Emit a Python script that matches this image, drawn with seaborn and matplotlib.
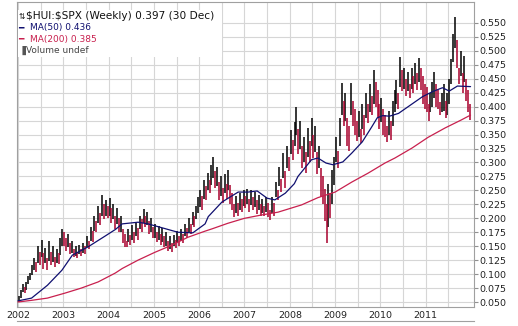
import numpy as np
import pandas as pd
import matplotlib
matplotlib.use("Agg")
import matplotlib.pyplot as plt
from matplotlib.patches import Rectangle
import seaborn as sns

# ---------------- data (semi-monthly high / low of the weekly bars) ----------------
years = [2002, 2003, 2004, 2005, 2006, 2007, 2008, 2009, 2010, 2011]

high_2002 = [0.060, 0.072, 0.082, 0.076, 0.086, 0.096, 0.102, 0.116, 0.128, 0.122, 0.150, 0.140,
             0.162, 0.138, 0.146, 0.128, 0.160, 0.140, 0.150, 0.130, 0.145, 0.138, 0.165, 0.180]
low_2002 = [0.050, 0.058, 0.068, 0.066, 0.072, 0.082, 0.090, 0.098, 0.108, 0.104, 0.120, 0.116,
            0.130, 0.110, 0.120, 0.108, 0.124, 0.116, 0.122, 0.112, 0.120, 0.118, 0.135, 0.150]
high_2003 = [0.175, 0.165, 0.172, 0.155, 0.160, 0.145, 0.150, 0.140, 0.152, 0.145, 0.155, 0.150,
             0.168, 0.160, 0.185, 0.178, 0.205, 0.195, 0.222, 0.210, 0.242, 0.225, 0.232, 0.222]
low_2003 = [0.150, 0.142, 0.148, 0.136, 0.138, 0.130, 0.132, 0.128, 0.136, 0.132, 0.138, 0.136,
            0.148, 0.145, 0.160, 0.158, 0.178, 0.175, 0.192, 0.188, 0.205, 0.198, 0.205, 0.200]
high_2004 = [0.236, 0.218, 0.225, 0.205, 0.218, 0.200, 0.205, 0.180, 0.172, 0.160, 0.180, 0.170,
             0.188, 0.175, 0.192, 0.182, 0.205, 0.198, 0.216, 0.205, 0.212, 0.195, 0.200, 0.185]
low_2004 = [0.205, 0.192, 0.198, 0.180, 0.190, 0.175, 0.175, 0.155, 0.149, 0.148, 0.158, 0.152,
            0.162, 0.156, 0.168, 0.162, 0.180, 0.176, 0.192, 0.185, 0.188, 0.172, 0.176, 0.165]
high_2005 = [0.190, 0.176, 0.186, 0.172, 0.182, 0.168, 0.175, 0.160, 0.168, 0.155, 0.170, 0.162,
             0.178, 0.168, 0.180, 0.172, 0.190, 0.182, 0.200, 0.190, 0.212, 0.205, 0.222, 0.238]
low_2005 = [0.165, 0.158, 0.162, 0.152, 0.158, 0.148, 0.150, 0.142, 0.145, 0.140, 0.150, 0.146,
            0.156, 0.150, 0.160, 0.155, 0.168, 0.164, 0.176, 0.172, 0.188, 0.184, 0.198, 0.210]
high_2006 = [0.250, 0.240, 0.268, 0.258, 0.282, 0.268, 0.295, 0.310, 0.285, 0.292, 0.265, 0.275,
             0.255, 0.280, 0.262, 0.286, 0.260, 0.245, 0.225, 0.240, 0.228, 0.245, 0.235, 0.250]
low_2006 = [0.220, 0.215, 0.235, 0.232, 0.250, 0.245, 0.260, 0.272, 0.255, 0.258, 0.232, 0.240,
            0.228, 0.245, 0.235, 0.250, 0.225, 0.215, 0.202, 0.210, 0.205, 0.215, 0.212, 0.222]
high_2007 = [0.240, 0.252, 0.235, 0.250, 0.238, 0.248, 0.232, 0.242, 0.225, 0.235, 0.222, 0.238,
             0.228, 0.215, 0.238, 0.228, 0.265, 0.250, 0.292, 0.270, 0.317, 0.285, 0.330, 0.310]
low_2007 = [0.218, 0.225, 0.212, 0.224, 0.214, 0.220, 0.208, 0.215, 0.205, 0.210, 0.204, 0.212,
            0.202, 0.197, 0.210, 0.205, 0.238, 0.232, 0.258, 0.248, 0.272, 0.255, 0.290, 0.285]
high_2008 = [0.358, 0.340, 0.372, 0.400, 0.360, 0.375, 0.330, 0.345, 0.318, 0.362, 0.338, 0.380,
             0.350, 0.365, 0.318, 0.330, 0.290, 0.275, 0.252, 0.225, 0.262, 0.245, 0.286, 0.310]
low_2008 = [0.315, 0.305, 0.330, 0.350, 0.315, 0.325, 0.290, 0.300, 0.282, 0.310, 0.300, 0.330,
            0.308, 0.318, 0.280, 0.290, 0.238, 0.225, 0.195, 0.156, 0.185, 0.200, 0.225, 0.260]
high_2009 = [0.345, 0.320, 0.380, 0.442, 0.410, 0.425, 0.380, 0.365, 0.442, 0.410, 0.395, 0.375,
             0.392, 0.360, 0.405, 0.385, 0.425, 0.405, 0.440, 0.420, 0.466, 0.445, 0.430, 0.405]
low_2009 = [0.300, 0.290, 0.330, 0.385, 0.365, 0.375, 0.330, 0.320, 0.385, 0.365, 0.350, 0.338,
            0.345, 0.335, 0.360, 0.350, 0.380, 0.370, 0.390, 0.385, 0.405, 0.400, 0.380, 0.360]
high_2010 = [0.415, 0.395, 0.385, 0.365, 0.392, 0.375, 0.410, 0.430, 0.448, 0.425, 0.489, 0.465,
             0.470, 0.450, 0.462, 0.440, 0.470, 0.455, 0.478, 0.460, 0.488, 0.470, 0.455, 0.440]
low_2010 = [0.372, 0.350, 0.345, 0.337, 0.350, 0.340, 0.365, 0.390, 0.405, 0.395, 0.435, 0.428,
            0.432, 0.420, 0.428, 0.415, 0.432, 0.425, 0.440, 0.430, 0.445, 0.430, 0.405, 0.395]
high_2011 = [0.435, 0.405, 0.425, 0.445, 0.462, 0.440, 0.430, 0.408, 0.425, 0.440, 0.410, 0.425,
             0.450, 0.485, 0.530, 0.561, 0.520, 0.470, 0.500, 0.460, 0.490, 0.450, 0.430, 0.405]
low_2011 = [0.390, 0.375, 0.390, 0.400, 0.415, 0.400, 0.395, 0.385, 0.390, 0.392, 0.380, 0.385,
            0.405, 0.440, 0.480, 0.505, 0.470, 0.440, 0.455, 0.425, 0.445, 0.410, 0.390, 0.376]

# moving averages
ma50_t = [2002.0, 2002.3, 2002.65, 2002.97, 2003.2, 2003.55, 2003.92, 2004.15, 2004.3, 2004.65,
          2004.87, 2005.18, 2005.53, 2005.86, 2006.13, 2006.2, 2006.5, 2006.86, 2007.08, 2007.28,
          2007.5, 2007.67, 2007.9, 2008.1, 2008.18, 2008.48, 2008.62, 2008.8, 2008.95, 2009.17,
          2009.37, 2009.6, 2009.81, 2009.93, 2010.05, 2010.2, 2010.4, 2010.7, 2010.93, 2011.15,
          2011.37, 2011.52, 2011.7, 2011.99]
ma50_v = [0.052, 0.057, 0.080, 0.107, 0.134, 0.149, 0.168, 0.180, 0.190, 0.193,
          0.190, 0.183, 0.175, 0.174, 0.190, 0.203, 0.229, 0.247, 0.247, 0.249,
          0.236, 0.233, 0.245, 0.262, 0.275, 0.305, 0.308, 0.299, 0.296, 0.301,
          0.317, 0.337, 0.364, 0.380, 0.384, 0.383, 0.388, 0.405, 0.418, 0.427,
          0.434, 0.428, 0.437, 0.436]
ma200_t = [2002.0, 2002.3, 2002.65, 2003.04, 2003.4, 2003.77, 2004.15, 2004.3, 2004.65, 2005.02,
           2005.4, 2005.75, 2006.13, 2006.28, 2006.63, 2007.0, 2007.38, 2007.74, 2008.1, 2008.26,
           2008.62, 2009.0, 2009.37, 2009.73, 2010.1, 2010.32, 2010.7, 2011.05, 2011.43, 2011.78,
           2011.99]
ma200_v = [0.050, 0.053, 0.057, 0.066, 0.075, 0.086, 0.102, 0.110, 0.125, 0.139,
           0.152, 0.166, 0.177, 0.181, 0.191, 0.200, 0.206, 0.211, 0.220, 0.224,
           0.237, 0.247, 0.265, 0.281, 0.299, 0.308, 0.326, 0.345, 0.362, 0.376,
           0.385]

y_ticks = [0.050, 0.075, 0.100, 0.125, 0.150, 0.175, 0.200, 0.225, 0.250, 0.275, 0.300,
           0.325, 0.350, 0.375, 0.400, 0.425, 0.450, 0.475, 0.500, 0.525, 0.550]

title_txt = "$HUI:$SPX (Weekly) 0.397 (30 Dec)"
ma50_txt = "MA(50) 0.436"
ma200_txt = "MA(200) 0.385"
vol_txt = "Volume undef"

# ---------------- build tables ----------------
highs = sum([high_2002, high_2003, high_2004, high_2005, high_2006, high_2007,
             high_2008, high_2009, high_2010, high_2011], [])
lows = sum([low_2002, low_2003, low_2004, low_2005, low_2006, low_2007,
            low_2008, low_2009, low_2010, low_2011], [])
n = len(highs)
bars = pd.DataFrame({"t": 2002 + (np.arange(n) + 0.5) / 24.0, "high": highs, "low": lows})
mid = (bars["high"] + bars["low"]) / 2
bars["up"] = mid.diff().fillna(1) >= 0

ma = pd.concat([
    pd.DataFrame({"t": ma50_t, "v": ma50_v, "s": "MA50"}),
    pd.DataFrame({"t": ma200_t, "v": ma200_v, "s": "MA200"}),
])

# ---------------- figure ----------------
sns.set_style("white")
plt.rcParams["font.family"] = ["DejaVu Sans"]

W, H = 518, 326
fig = plt.figure(figsize=(W / 100, H / 100), dpi=100)
left_px, right_px, top_px, bot_px = 17, 474, 2, 307
ax = fig.add_axes([left_px / W, 1 - bot_px / H, (right_px - left_px) / W, (bot_px - top_px) / H])

px_per_year = 45.3
ax.set_xlim(2002 - 1 / px_per_year, 2002 + (right_px - 18) / px_per_year)
ax.set_ylim(0.050 - 5 / 558, 0.050 + 300 / 558)

red = "#a8002c"
up_c = "#000000"
b_up = bars[bars["up"]]
b_dn = bars[~bars["up"]]
ax.vlines(b_up["t"], b_up["low"], b_up["high"], colors=up_c, lw=1.1, zorder=3)
ax.vlines(b_dn["t"], b_dn["low"], b_dn["high"], colors=red, lw=1.1, zorder=3)

sns.lineplot(data=ma, x="t", y="v", hue="s", palette={"MA50": "#101070", "MA200": "#c8204e"},
             ax=ax, legend=False, lw=0.9, zorder=4, estimator=None, sort=False)

ax.set_xlabel("")
ax.set_ylabel("")
ax.set_xticks(years)
ax.set_xticklabels([str(y) for y in years])
ax.set_xticks([y + 0.5 for y in years], minor=True)
ax.set_yticks(y_ticks)
ax.set_yticklabels([f"{v:.3f}" for v in y_ticks])
ax.yaxis.tick_right()
ax.grid(True, which="both", color="#d6d6d6", lw=0.8)
ax.set_axisbelow(True)
ax.tick_params(axis="y", which="major", direction="out", length=3, width=0.8,
               color="#909090", labelsize=6.8, pad=1, labelcolor="#222222")
ax.tick_params(axis="x", which="both", length=0, labelsize=6.8, pad=3, labelcolor="#222222")
for s in ax.spines.values():
    s.set_color("#a0a0a0")
    s.set_linewidth(0.8)

# legend block
ax.add_patch(Rectangle((0.002, 0.82), 0.447, 0.155, transform=ax.transAxes,
                       facecolor="white", edgecolor="none", zorder=5))
ax.text(0.004, 0.954, "\u21c5", transform=ax.transAxes, fontsize=5.5,
        va="center", ha="left", color="#111111", zorder=6)
ax.text(0.020, 0.954, title_txt, transform=ax.transAxes, fontsize=7.6, parse_math=False,
        va="center", ha="left", color="#111111", zorder=6)
fs = 6.5
ax.text(0.003, 0.916, "\u2501", transform=ax.transAxes, fontsize=fs, va="center",
        ha="left", color="#101070", zorder=6)
ax.text(0.028, 0.916, ma50_txt, transform=ax.transAxes, fontsize=fs, va="center",
        ha="left", color="#101070", zorder=6)
ax.text(0.003, 0.878, "\u2501", transform=ax.transAxes, fontsize=fs, va="center",
        ha="left", color="#c8204e", zorder=6)
ax.text(0.028, 0.878, ma200_txt, transform=ax.transAxes, fontsize=fs, va="center",
        ha="left", color="#c8204e", zorder=6)
ax.text(0.004, 0.840, "\u2590", transform=ax.transAxes, fontsize=fs, va="center",
        ha="left", color="#555555", zorder=6)
ax.text(0.019, 0.840, vol_txt, transform=ax.transAxes, fontsize=fs, va="center",
        ha="left", color="#444444", zorder=6)

# top edge of the (empty) lower panel
ax2 = fig.add_axes([left_px / W, 0, (right_px - left_px) / W, 5 / H])
ax2.set_xlim(ax.get_xlim())
ax2.set_xticks([])
ax2.set_yticks([])
for k, s in ax2.spines.items():
    s.set_visible(k == "top")
    s.set_color("#a0a0a0")
    s.set_linewidth(0.8)

fig.savefig("out.png", dpi=100)
